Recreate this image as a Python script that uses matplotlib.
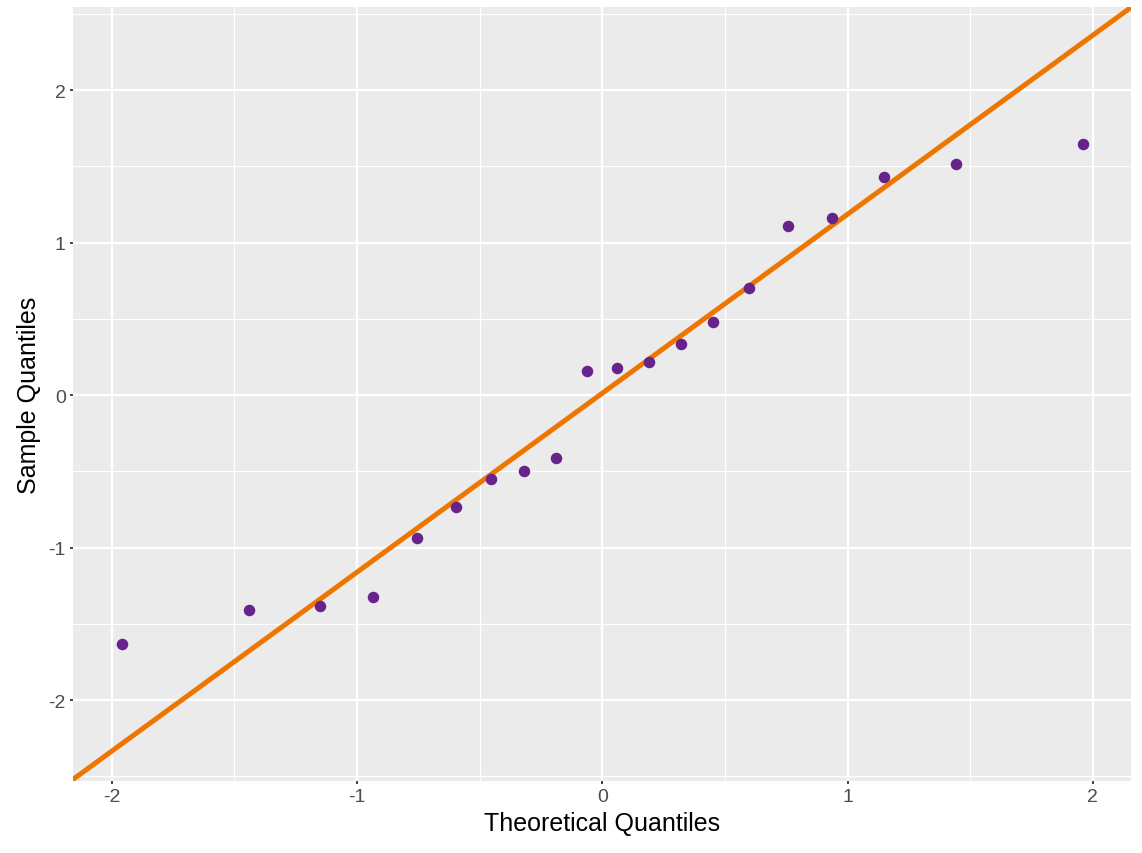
import matplotlib

matplotlib.use("Agg")
import matplotlib.pyplot as plt
from matplotlib.ticker import MultipleLocator

# theoretical quantiles (x) and sample quantiles (y)
theoretical = [-1.96, -1.44, -1.15, -0.935, -0.755, -0.598, -0.454, -0.32, -0.19, -0.063,
               0.061, 0.189, 0.319, 0.452, 0.599, 0.755, 0.935, 1.149, 1.44, 1.96]
sample = [-1.633, -1.41, -1.382, -1.327, -0.938, -0.736, -0.551, -0.50, -0.415, 0.157,
          0.179, 0.218, 0.334, 0.479, 0.70, 1.11, 1.165, 1.428, 1.515, 1.65]

# reference line (intercept, slope)
line_intercept = 0.013
line_slope = 1.174

xlim = (-2.157, 2.154)
ylim = (-2.529, 2.544)

plt.rcParams["font.family"] = ["Liberation Sans", "DejaVu Sans"]
plt.rcParams["axes.unicode_minus"] = False

fig = plt.figure(figsize=(11.42, 8.54), dpi=100)
ax = fig.add_axes([0.0642, 0.0847, 0.9259, 0.9056])
ax.set_facecolor("#EBEBEB")
for s in ax.spines.values():
    s.set_visible(False)

ax.set_xlim(*xlim)
ax.set_ylim(*ylim)
ax.xaxis.set_major_locator(MultipleLocator(1))
ax.yaxis.set_major_locator(MultipleLocator(1))
ax.xaxis.set_minor_locator(MultipleLocator(0.5))
ax.yaxis.set_minor_locator(MultipleLocator(0.5))
ax.grid(which="major", color="white", linewidth=1.6)
ax.grid(which="minor", color="white", linewidth=0.8)
ax.set_axisbelow(True)
ax.tick_params(which="minor", length=0)
ax.tick_params(which="major", length=2.5, width=1.3, color="#333333",
               labelsize=14, labelcolor="#4D4D4D", pad=3)

ax.axline((0, line_intercept), slope=line_slope, color="#EE7600", linewidth=3.6, zorder=2)
ax.plot(theoretical, sample, "o", color="#68228B", markersize=8.3, markeredgewidth=0, zorder=3)

ax.set_xlabel("Theoretical Quantiles", fontsize=18, color="black", labelpad=4)
ax.set_ylabel("Sample Quantiles", fontsize=18, color="black", labelpad=5)

fig.savefig("out.png", dpi=100)
